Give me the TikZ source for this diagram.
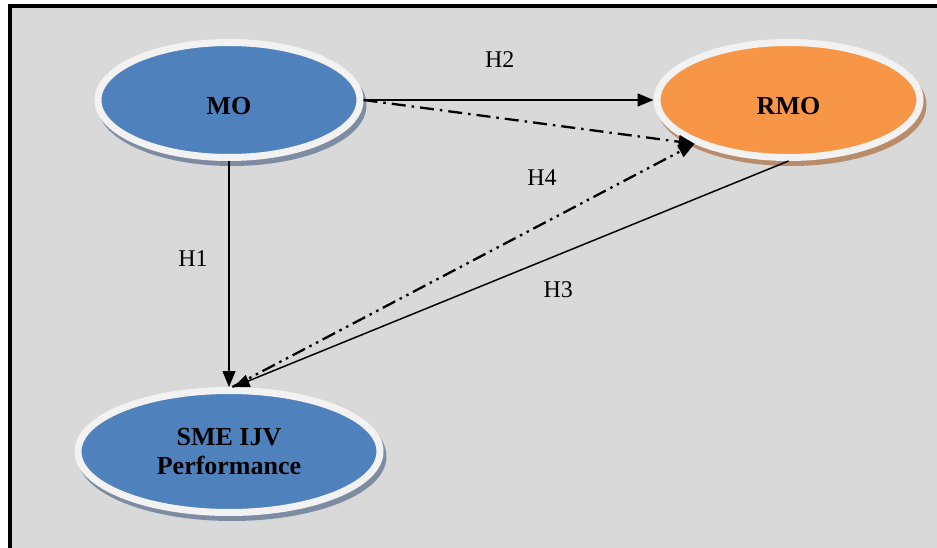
\documentclass[tikz,border=0pt]{standalone}
\usepackage{fontspec}
\setmainfont{Liberation Serif}
\usepackage{tikz}
\usetikzlibrary{positioning, arrows.meta, shapes.geometric, shadows}

\definecolor{panelgray}{HTML}{D9D9D9}
\definecolor{ringwhite}{HTML}{F2F2F2}
\definecolor{moblue}{HTML}{4F81BD}
\definecolor{rmoorange}{HTML}{F79646}
\definecolor{blueshade}{HTML}{7D8CA3}
\definecolor{orangeshade}{HTML}{B98D6C}

\begin{document}
\begin{tikzpicture}[
  x=1pt, y=-1pt,
  font=\fontsize{24}{28}\selectfont,
  construct/.style={ellipse, draw=ringwhite, line width=7pt, inner sep=0pt, align=center,
    font=\fontsize{26}{29}\selectfont\bfseries},
  blueshadow/.style={drop shadow={shadow xshift=3pt, shadow yshift=-5pt, fill=blueshade, draw=blueshade, line width=7pt, opacity=1}},
  orangeshadow/.style={drop shadow={shadow xshift=3pt, shadow yshift=-5pt, fill=orangeshade, draw=orangeshade, line width=7pt, opacity=1}},
  arr/.style={-{Triangle[length=16pt, width=13pt]}, line width=1.5pt},
  dashdot/.style={dash pattern=on 14pt off 6pt on 2.5pt off 6pt, line width=2.3pt},
  dashdotdot/.style={dash pattern=on 14pt off 5pt on 2.5pt off 5pt on 2.5pt off 5pt, line width=2.3pt},
  hyp/.style={inner sep=0pt}
]
  \useasboundingbox (0,0) rectangle (937,548);
  \fill[panelgray] (10,6) rectangle (937,548);
  \draw[line width=4pt] (10,548) -- (10,6) -- (937,6);

  \node[construct, fill=moblue, blueshadow, minimum width=262pt, minimum height=115pt, text height=29pt, text depth=0pt] (mo) at (229,100) {MO};
  \node[construct, fill=rmoorange, orangeshadow, minimum width=263pt, minimum height=115pt, text height=29pt, text depth=0pt, right=290pt of mo] (rmo) {RMO};
  \node[construct, fill=moblue, blueshadow, minimum width=302pt, minimum height=122pt, below=226pt of mo] (sme) {SME IJV\\Performance};

  \draw[arr] (mo.east) -- node[hyp, pos=0.47, yshift=40pt] {H2} (rmo.west);
  \draw[arr] (mo.south) -- node[hyp, pos=0.43, xshift=-36pt] {H1} (sme.north);
  \draw[arr] (rmo.south) -- node[hyp, pos=0.415, yshift=-35pt] {H3} (sme.86);
  \draw[arr, dashdot] (mo.east) -- (rmo.205);
  \draw[arr, dashdotdot] (sme.87) -- node[hyp, pos=0.67, yshift=46pt] {H4} (rmo.205);
\end{tikzpicture}
\end{document}
